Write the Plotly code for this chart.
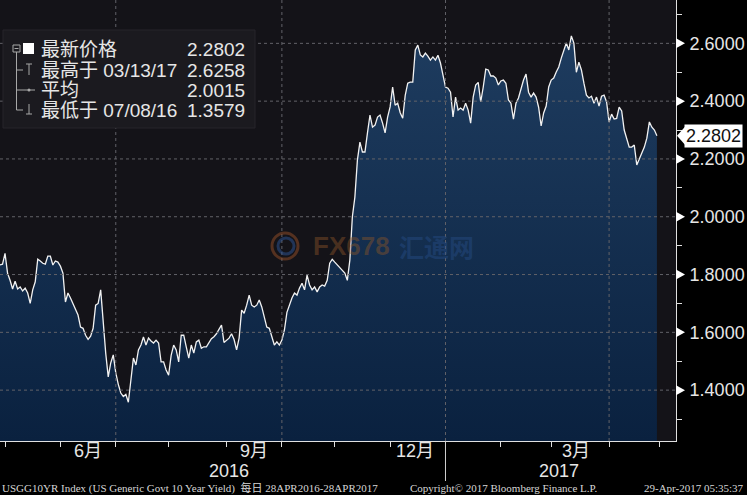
import pandas as pd
import plotly.graph_objects as go

# ---------------- data ----------------
start_date = "2016-04-28"
# USGG10YR daily (business days) 28APR2016 - 28APR2017
yields = [
    1.833, 1.836, 1.873, 1.805, 1.780, 1.750, 1.777, 1.750, 1.757, 1.743,
    1.753, 1.736, 1.700, 1.747, 1.775, 1.853, 1.847, 1.839, 1.836, 1.864,
    1.864, 1.833, 1.847, 1.843, 1.829, 1.805, 1.705, 1.736, 1.719, 1.701,
    1.680, 1.660, 1.618, 1.614, 1.590, 1.576, 1.587, 1.614, 1.694, 1.700,
    1.747, 1.632, 1.528, 1.446, 1.494, 1.522, 1.460, 1.420, 1.390, 1.378,
    1.385, 1.3579, 1.430, 1.511, 1.487, 1.539, 1.556, 1.584, 1.556, 1.580,
    1.570, 1.563, 1.573, 1.563, 1.498, 1.498, 1.470, 1.452, 1.520, 1.556,
    1.539, 1.498, 1.590, 1.590, 1.550, 1.511, 1.556, 1.528, 1.567, 1.573,
    1.545, 1.550, 1.550, 1.565, 1.578, 1.585, 1.595, 1.610, 1.625, 1.565,
    1.573, 1.580, 1.595, 1.575, 1.539, 1.580, 1.677, 1.666, 1.694, 1.729,
    1.694, 1.688, 1.694, 1.712, 1.688, 1.653, 1.618, 1.614, 1.580, 1.556,
    1.567, 1.556, 1.573, 1.608, 1.669, 1.694, 1.719, 1.736, 1.729, 1.753,
    1.770, 1.747, 1.798, 1.764, 1.747, 1.757, 1.740, 1.757, 1.764, 1.760,
    1.780, 1.839, 1.853, 1.843, 1.833, 1.826, 1.816, 1.805, 1.780, 1.850,
    2.000, 2.068, 2.196, 2.258, 2.224, 2.224, 2.290, 2.352, 2.310, 2.317,
    2.345, 2.352, 2.324, 2.290, 2.345, 2.380, 2.449, 2.386, 2.393, 2.360,
    2.341, 2.420, 2.462, 2.466, 2.466, 2.577, 2.594, 2.560, 2.553, 2.566,
    2.556, 2.542, 2.553, 2.542, 2.559, 2.532, 2.490, 2.449, 2.445, 2.431,
    2.345, 2.414, 2.369, 2.376, 2.369, 2.393, 2.369, 2.324, 2.414, 2.456,
    2.465, 2.397, 2.449, 2.511, 2.508, 2.487, 2.487, 2.480, 2.456, 2.470,
    2.473, 2.462, 2.404, 2.393, 2.338, 2.393, 2.411, 2.445, 2.473, 2.494,
    2.431, 2.414, 2.428, 2.414, 2.379, 2.314, 2.359, 2.383, 2.449, 2.473,
    2.480, 2.501, 2.518, 2.549, 2.577, 2.601, 2.577, 2.6258, 2.601, 2.500,
    2.535, 2.508, 2.462, 2.421, 2.411, 2.417, 2.393, 2.414, 2.383, 2.417,
    2.421, 2.397, 2.328, 2.355, 2.338, 2.340, 2.379, 2.366, 2.300, 2.270,
    2.241, 2.241, 2.248, 2.179, 2.203, 2.221, 2.241, 2.272, 2.328, 2.310,
    2.300, 2.2802,
]
dates = pd.bdate_range(start=start_date, periods=len(yields))

y_ticks = [1.4, 1.6, 1.8, 2.0, 2.2, 2.4, 2.6]
y_minor = [1.3, 1.5, 1.7, 1.9, 2.1, 2.3, 2.5, 2.7]
month_starts = ["2016-05-02", "2016-06-01", "2016-07-01", "2016-08-01", "2016-09-01",
                "2016-10-03", "2016-11-01", "2016-12-01", "2017-01-02", "2017-02-01",
                "2017-03-01", "2017-04-03", "2017-05-01"]
quarter_starts = ["2016-07-01", "2016-10-03", "2017-01-02", "2017-04-03"]
month_label_dates = ["2016-06-16", "2016-09-16", "2016-12-15", "2017-03-15"]
month_labels = ["6月", "9月", "12月", "3月"]
year_label_dates = ["2016-09-02", "2017-03-06"]
year_labels = ["2016", "2017"]
year_split = "2017-01-02"

legend_rows = [("最新价格", "2.2802"), ("最高于 03/13/17", "2.6258"),
               ("平均", "2.0015"), ("最低于 07/08/16", "1.3579")]

# ---------------- layout helpers ----------------
W, H = 747, 495
PL, PR, PT, PB = 0, 676, 0, 441          # plot area in pixels
def px(x):
    return (x - PL) / (PR - PL)
def py(y):
    return 1 - (y - PT) / (PB - PT)

y_range = [1.224, 2.75]
x_range = ["2016-04-28", "2017-05-09 14:00"]

FONT = "Liberation Sans, Noto Sans CJK SC, sans-serif"
TXT = "#e6e6e6"

fig = go.Figure()
fig.add_trace(go.Scatter(
    x=dates, y=yields, mode="lines",
    line=dict(color="#f2f2f2", width=1.3),
    fill="tozeroy",
    fillgradient=dict(type="vertical", start=y_range[0], stop=2.63,
                      colorscale=[[0, "#0a213f"], [1, "#1e3c5f"]]),
    hoverinfo="skip", showlegend=False,
))

shapes = []
# gridlines (drawn above the fill)
grid = dict(color="#626268", width=1, dash="3px,3px")
for v in y_ticks:
    shapes.append(dict(type="line", xref="paper", yref="y", x0=0, x1=1, y0=v, y1=v,
                       line=grid, layer="above"))
for d in quarter_starts:
    shapes.append(dict(type="line", xref="x", yref="paper", x0=d, x1=d, y0=0, y1=1,
                       line=grid, layer="above"))
# year separator under the axis
shapes.append(dict(type="line", xref="x", yref="paper", x0=year_split, x1=year_split,
                   y0=py(441), y1=py(481), line=dict(color="#cfcfcf", width=1)))
# right axis triangles at major ticks
for v in y_ticks:
    shapes.append(dict(type="path", xref="paper", yref="y", xsizemode="pixel",
                       ysizemode="pixel", xanchor=1, yanchor=v,
                       path="M0,5 L9,0 L0,-5 Z", fillcolor="white",
                       line=dict(width=0), layer="above"))
# last value notch
shapes.append(dict(type="path", xref="paper", yref="y", xsizemode="pixel",
                   ysizemode="pixel", xanchor=1, yanchor=yields[-1],
                   path="M1,0 L9,9 L9,-9 Z", fillcolor="white",
                   line=dict(width=0), layer="above"))
# legend panel
shapes.append(dict(type="rect", xref="paper", yref="paper",
                   x0=px(3), x1=px(255), y0=py(128), y1=py(30),
                   fillcolor="#1b1a1f", line=dict(color="#26252a", width=1), layer="above"))
gray = dict(color="#a8a8a8", width=1)
shapes += [
    dict(type="rect", xref="paper", yref="paper", x0=px(13), x1=px(20), y0=py(52), y1=py(45),
         line=gray, layer="above"),
    dict(type="line", xref="paper", yref="paper", x0=px(14.5), x1=px(18.5), y0=py(48.5), y1=py(48.5),
         line=gray, layer="above"),
    dict(type="rect", xref="paper", yref="paper", x0=px(23), x1=px(34), y0=py(54), y1=py(43),
         fillcolor="white", line=dict(width=0), layer="above"),
    dict(type="line", xref="paper", yref="paper", x0=px(16.5), x1=px(16.5), y0=py(110), y1=py(52),
         line=gray, layer="above"),
]
for ry in (70, 90, 110):
    shapes.append(dict(type="line", xref="paper", yref="paper", x0=px(16.5), x1=px(23),
                       y0=py(ry), y1=py(ry), line=gray, layer="above"))
shapes += [
    dict(type="line", xref="paper", yref="paper", x0=px(29), x1=px(29), y0=py(75), y1=py(64),
         line=gray, layer="above"),
    dict(type="line", xref="paper", yref="paper", x0=px(26), x1=px(32), y0=py(64), y1=py(64),
         line=gray, layer="above"),
    dict(type="line", xref="paper", yref="paper", x0=px(23), x1=px(35), y0=py(90), y1=py(90),
         line=gray, layer="above"),
    dict(type="circle", xref="paper", yref="paper", x0=px(27.5), x1=px(30.5), y0=py(91.5), y1=py(88.5),
         fillcolor="#a8a8a8", line=dict(width=0), layer="above"),
    dict(type="line", xref="paper", yref="paper", x0=px(29), x1=px(29), y0=py(114), y1=py(104),
         line=gray, layer="above"),
    dict(type="line", xref="paper", yref="paper", x0=px(26), x1=px(32), y0=py(114), y1=py(114),
         line=gray, layer="above"),
]
# watermark swirl logo
shapes += [
    dict(type="circle", xref="paper", yref="paper", x0=px(272), x1=px(298), y0=py(259), y1=py(233),
         line=dict(color="rgba(150,80,40,0.5)", width=3), layer="above"),
    dict(type="circle", xref="paper", yref="paper", x0=px(278), x1=px(294), y0=py(254), y1=py(238),
         line=dict(color="rgba(45,85,150,0.5)", width=3), layer="above"),
]

ann = []
# legend rows
for (label, val), ry in zip(legend_rows, (49, 70, 90, 110)):
    ann.append(dict(text=label, xref="paper", yref="paper", x=px(39), y=py(ry),
                    xanchor="left", yanchor="middle", showarrow=False,
                    font=dict(family=FONT, size=19, color=TXT)))
    ann.append(dict(text=val, xref="paper", yref="paper", x=px(247), y=py(ry),
                    xanchor="right", yanchor="middle", showarrow=False,
                    font=dict(family=FONT, size=19, color=TXT)))
# month and year labels
for d, t in zip(month_label_dates, month_labels):
    ann.append(dict(text=t, xref="x", yref="paper", x=d, y=py(451), xanchor="center",
                    yanchor="middle", showarrow=False,
                    font=dict(family=FONT, size=18, color=TXT)))
for d, t in zip(year_label_dates, year_labels):
    ann.append(dict(text=t, xref="x", yref="paper", x=d, y=py(471), xanchor="center",
                    yanchor="middle", showarrow=False,
                    font=dict(family=FONT, size=18, color=TXT)))
# last value box
ann.append(dict(text=f"{yields[-1]:.4f}", xref="paper", yref="y", x=px(684), y=yields[-1],
                xanchor="left", yanchor="middle", showarrow=False, bgcolor="white",
                borderpad=1, font=dict(family=FONT, size=18, color="#111111")))
# watermark
ann.append(dict(text="<b>FX678</b>", xref="paper", yref="paper", x=px(351), y=py(246),
                xanchor="center", yanchor="middle", showarrow=False,
                font=dict(family=FONT, size=26, color="rgba(140,85,40,0.45)")))
ann.append(dict(text="<b>汇通网</b>", xref="paper", yref="paper", x=px(436), y=py(246),
                xanchor="center", yanchor="middle", showarrow=False,
                font=dict(family="Noto Sans CJK SC", size=25, color="rgba(40,80,140,0.42)")))
# footer
foot = dict(family="Liberation Serif, Noto Sans CJK SC, serif", size=11, color="#d6d6d6")
ann.append(dict(text="USGG10YR Index (US Generic Govt 10 Year Yield)  每日 28APR2016-28APR2017",
                xref="paper", yref="paper", x=px(0), y=py(488), xanchor="left",
                yanchor="middle", showarrow=False, font=foot))
ann.append(dict(text="Copyright© 2017 Bloomberg Finance L.P.", xref="paper", yref="paper",
                x=px(408), y=py(488), xanchor="left", yanchor="middle", showarrow=False, font=foot))
ann.append(dict(text="29-Apr-2017 05:35:37", xref="paper", yref="paper", x=px(746),
                y=py(488), xanchor="right", yanchor="middle", showarrow=False, font=foot))

fig.update_layout(
    width=W, height=H,
    margin=dict(l=PL, r=W - PR, t=PT, b=H - PB, pad=0),
    paper_bgcolor="#000000", plot_bgcolor="#141318",
    shapes=shapes, annotations=ann, showlegend=False,
    xaxis=dict(type="date", range=x_range, rangebreaks=[dict(bounds=["sat", "mon"])],
               tickvals=month_starts, ticktext=[""] * len(month_starts),
               ticks="outside", ticklen=5, tickcolor="#e0e0e0", tickwidth=1,
               showline=True, linecolor="#e0e0e0", linewidth=1,
               showgrid=False, zeroline=False, fixedrange=True),
    yaxis=dict(side="right", range=y_range, tickvals=y_ticks,
               ticktext=[f"{v:.4f}" for v in y_ticks],
               ticks="outside", ticklen=9, tickcolor="rgba(0,0,0,0)",
               tickfont=dict(family=FONT, size=18, color=TXT),
               minor=dict(tickvals=y_minor, ticks="outside", ticklen=5,
                          tickcolor="#e0e0e0", showgrid=False),
               showline=True, linecolor="#e0e0e0", linewidth=1,
               showgrid=False, zeroline=False, fixedrange=True),
)

fig.write_html("out.html", config={"displayModeBar": False},
               post_script="document.body.style.margin='0px';")
